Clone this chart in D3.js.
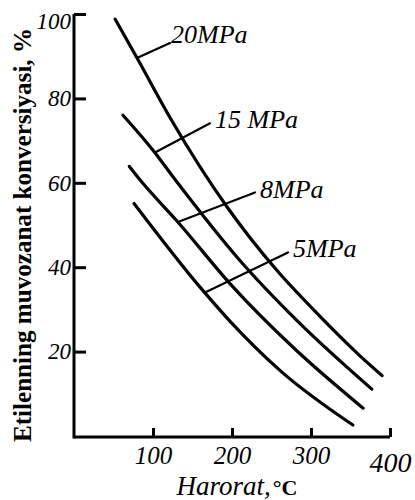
<!DOCTYPE html>
<html>
<head>
<meta charset="utf-8">
<script src="https://cdn.jsdelivr.net/npm/d3@7"></script>
<style>
  html, body { margin: 0; padding: 0; background: #fff; }
  svg { display: block; }
  text { font-family: "Liberation Serif", "DejaVu Serif", serif; fill: #000; }
</style>
</head>
<body>
<svg id="chart" width="415" height="500"></svg>
<script>
// ---- data ----
const xTicks = [100, 200, 300, 400];
const yTicks = [20, 40, 60, 80, 100];

const seriesNames = ["20MPa", "15 MPa", "8MPa", "5MPa"];

const temp20 = [52, 80, 122, 194, 257, 308, 362, 390];
const conv20 = [98.8, 89.5, 75.3, 54.2, 39.2, 29.0, 19.0, 14.3];

const temp15 = [62, 100, 125, 210, 282, 377];
const conv15 = [76.0, 67.7, 61.5, 41.6, 27.4, 11.1];

const temp8 = [70, 84, 132, 198, 282, 366];
const conv8 = [63.9, 60.6, 50.6, 36.0, 20.2, 6.6];

const temp5 = [76, 163, 197, 261, 353];
const conv5 = [55.1, 34.5, 27.3, 15.5, 2.6];

// leader lines: [x0, y0, x1, y1] in data units
const leader20 = [79.7, 89.6, 121.5, 93.1];
const leader15 = [102.5, 67.2, 172.2, 74.1];
const leader8  = [131.6, 50.7, 229.1, 57.7];
const leader5  = [165.8, 34.0, 270.9, 43.5];

const xTitle = "Harorat,";
const xUnit = "°C";
const yTitle = "Etilenning muvozanat konversiyasi, %";

// ---- drawing ----
const svg = d3.select("#chart");
svg.append("rect").attr("width", 415).attr("height", 500).attr("fill", "#fff");

const x = d3.scaleLinear().domain([0, 400]).range([74, 390]);
const y = d3.scaleLinear().domain([0, 100]).range([436, 14]);

// y axis
const gy = svg.append("g").attr("transform", "translate(74,0)")
  .call(d3.axisLeft(y).tickValues(yTicks).tickSizeInner(-12).tickSizeOuter(0)
    .tickPadding(3).tickFormat(d3.format("d")));
gy.select(".domain").attr("d", "M0," + (y(0) + 2.5) + "V" + y(100))
  .attr("stroke", "#000").attr("stroke-width", 3);
gy.selectAll(".tick line").attr("stroke", "#000").attr("stroke-width", 3);
gy.selectAll(".tick text").style("font-size", "23px").style("font-style", "italic")
  .attr("font-family", null);
gy.selectAll(".tick text").filter(d => d === 100).attr("dy", "0.65em");

// x axis
const gx = svg.append("g").attr("transform", "translate(0," + (y(0) + 1) + ")")
  .call(d3.axisBottom(x).tickValues(xTicks).tickSizeInner(-9).tickSizeOuter(0)
    .tickPadding(9).tickFormat(d3.format("d")));
gx.select(".domain").attr("d", "M" + x(0) + ",0H" + x(400))
  .attr("stroke", "#000").attr("stroke-width", 3);
gx.selectAll(".tick line").attr("stroke", "#000").attr("stroke-width", 3);
gx.selectAll(".tick text").style("font-size", "25px").style("font-style", "italic")
  .attr("font-family", null);
gx.selectAll(".tick text").filter(d => d === 400)
  .style("font-size", "28px").attr("y", 15);

// curves
const line = d3.line().x(d => x(d[0])).y(d => y(d[1])).curve(d3.curveMonotoneX);
const series = [
  [temp20, conv20], [temp15, conv15], [temp8, conv8], [temp5, conv5]
];
series.forEach(([t, c]) => {
  svg.append("path")
    .attr("d", line(t.map((v, i) => [v, c[i]])))
    .attr("fill", "none").attr("stroke", "#000")
    .attr("stroke-width", 3.2).attr("stroke-linecap", "round");
});

// leaders + labels
const leaders = [leader20, leader15, leader8, leader5];
leaders.forEach((l, i) => {
  svg.append("line")
    .attr("x1", x(l[0])).attr("y1", y(l[1]))
    .attr("x2", x(l[2])).attr("y2", y(l[3]))
    .attr("stroke", "#000").attr("stroke-width", 2.2).attr("stroke-linecap", "round");
  svg.append("text")
    .attr("x", x(l[2]) + (i === 0 ? 1 : 5))
    .attr("y", y(l[3]) + (i === 0 ? 0 : 5))
    .style("font-size", "26px").style("font-style", "italic")
    .text(seriesNames[i]);
});

// axis titles
const xt = svg.append("text").attr("x", 237).attr("y", 495)
  .attr("text-anchor", "middle").style("font-size", "27px");
xt.append("tspan").style("font-style", "italic").text(xTitle);
xt.append("tspan").style("font-weight", "bold").style("font-size", "22px")
  .attr("dx", 2).text(xUnit);

svg.append("text")
  .attr("transform", "translate(31,235) rotate(-90)")
  .attr("text-anchor", "middle")
  .style("font-size", "25px").style("font-weight", "bold")
  .attr("textLength", 414).attr("lengthAdjust", "spacingAndGlyphs")
  .text(yTitle);
</script>
</body>
</html>
